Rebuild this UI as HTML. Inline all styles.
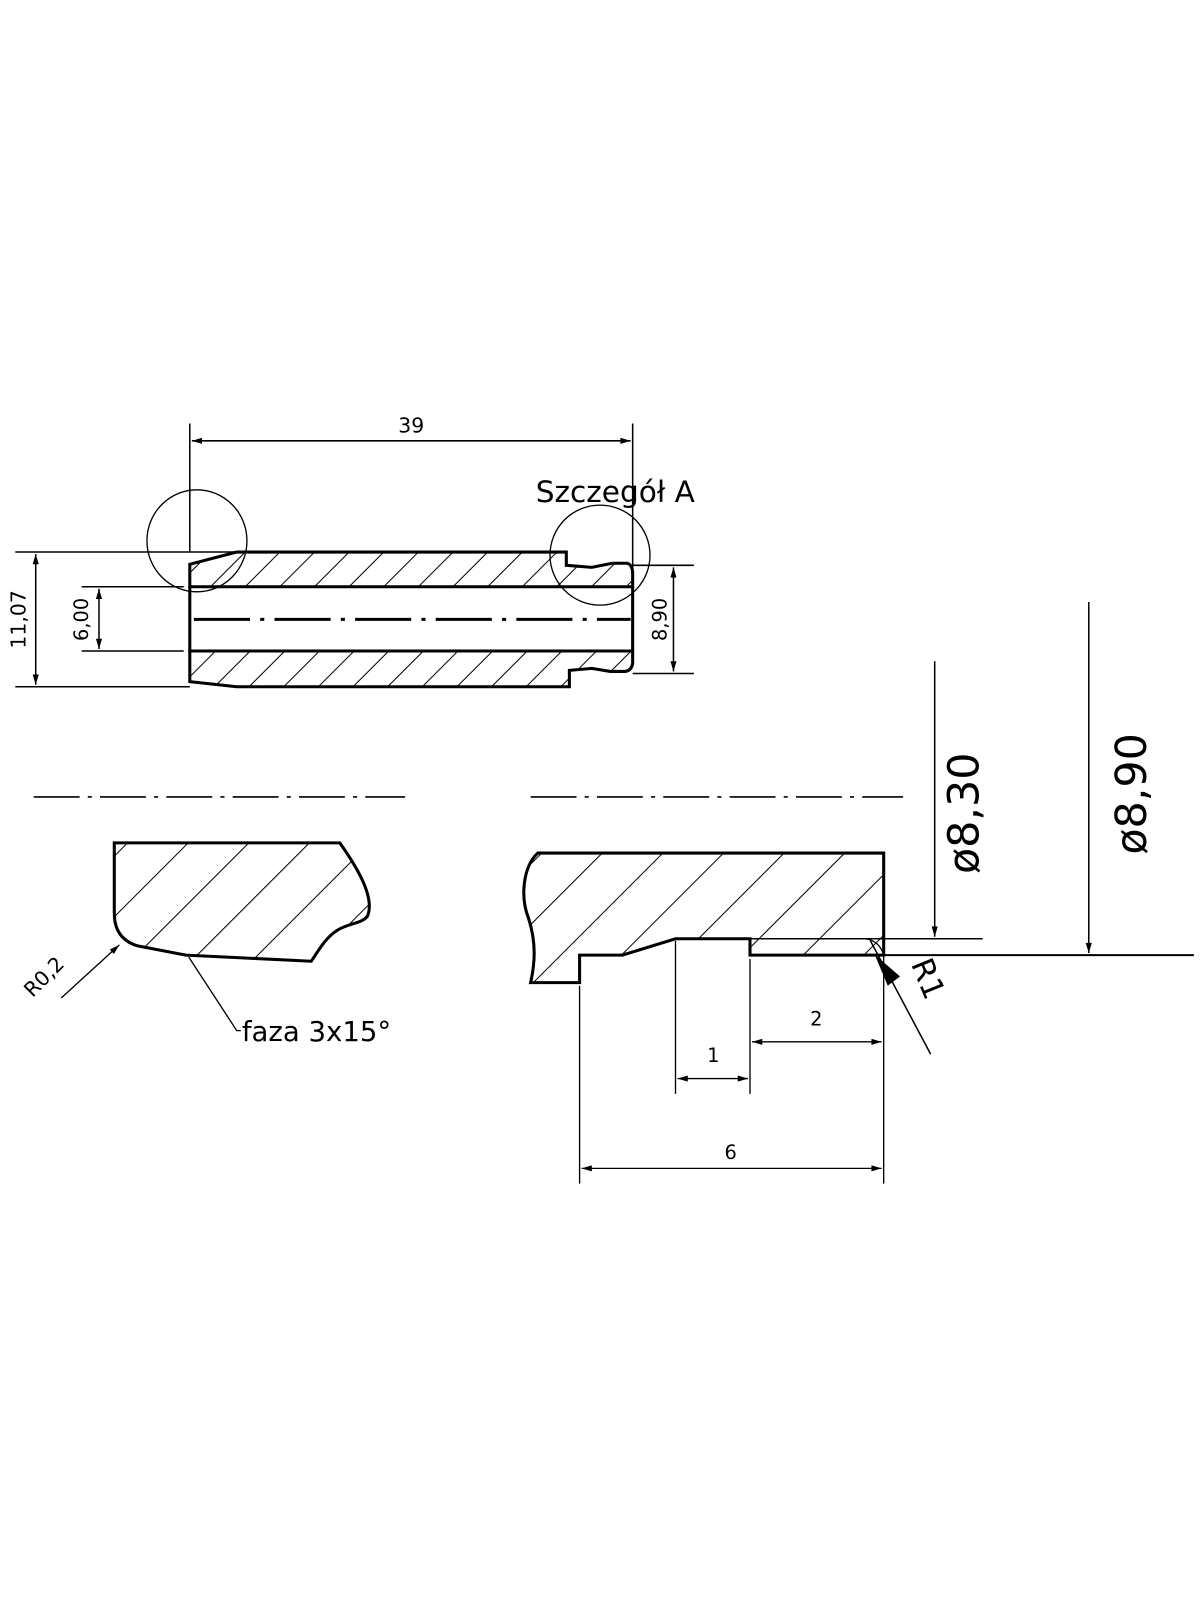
<!DOCTYPE html>
<html><head><meta charset="utf-8"><style>html,body{margin:0;padding:0;background:#fff}svg{display:block}</style></head>
<body>
<svg width="1200" height="1600" viewBox="0 0 1176 1568" xmlns="http://www.w3.org/2000/svg" font-family="'DejaVu Sans','Liberation Sans',sans-serif">
<defs>
<pattern id="h1" width="24" height="24" patternUnits="userSpaceOnUse" patternTransform="rotate(45)"><line x1="0" y1="0" x2="0" y2="24" stroke="#000" stroke-width="2"/></pattern>
<pattern id="h2" width="42" height="42" patternUnits="userSpaceOnUse" patternTransform="rotate(45)"><line x1="0" y1="0" x2="0" y2="42" stroke="#000" stroke-width="2"/></pattern>
<marker id="a" viewBox="0 0 10 6" refX="10" refY="3" markerWidth="14" markerHeight="6" markerUnits="userSpaceOnUse" orient="auto-start-reverse"><path d="M0,0 L10,3 L0,6 Z" fill="#000"/></marker>
</defs>
<g fill="none" stroke="#000">
<path d="M186,575 L186,553 L232,541 L555,541 L555,554 L580,556 L600,552 L615,552 Q620,554 620,562 L620,575 Z" fill="url(#h1)" stroke-width="3"/>
<path d="M186,638 L620,638 L620,650 Q619,657 613,658 L598,658 L580,655 L558,657 L558,673 L232,673 L186,668 Z" fill="url(#h1)" stroke-width="3"/>
<line x1="186" y1="575" x2="186" y2="638" stroke-width="3"/>
<line x1="620" y1="575" x2="620" y2="638" stroke-width="3"/>
<line x1="190" y1="607" x2="618" y2="607" stroke-width="3" stroke-dasharray="55,10,4,10"/>
<ellipse cx="193" cy="530" rx="49" ry="50" stroke-width="1.3"/>
<circle cx="588" cy="544" r="49" stroke-width="1.3"/>
<line x1="186" y1="415" x2="186" y2="541" stroke-width="1.5"/>
<line x1="620" y1="415" x2="620" y2="556" stroke-width="1.5"/>
<line x1="188" y1="432" x2="618" y2="432" stroke-width="1.5" marker-start="url(#a)" marker-end="url(#a)"/>
<line x1="15" y1="541" x2="232" y2="541" stroke-width="1.5"/>
<line x1="15" y1="673" x2="186" y2="673" stroke-width="1.5"/>
<line x1="35" y1="543" x2="35" y2="671" stroke-width="1.5" marker-start="url(#a)" marker-end="url(#a)"/>
<line x1="80" y1="575" x2="180" y2="575" stroke-width="1.5"/>
<line x1="80" y1="638" x2="180" y2="638" stroke-width="1.5"/>
<line x1="97" y1="577" x2="97" y2="636" stroke-width="1.5" marker-start="url(#a)" marker-end="url(#a)"/>
<line x1="620" y1="554" x2="680" y2="554" stroke-width="1.5"/>
<line x1="620" y1="660" x2="680" y2="660" stroke-width="1.5"/>
<line x1="660" y1="556" x2="660" y2="658" stroke-width="1.5" marker-start="url(#a)" marker-end="url(#a)"/>
<line x1="33" y1="781" x2="397" y2="781" stroke-width="1.5" stroke-dasharray="45,8,4,8"/>
<line x1="520" y1="781" x2="885" y2="781" stroke-width="1.5" stroke-dasharray="45,8,4,8"/>
<path d="M112,826 L333,826 C350,850 368,880 360,898 C355,905 340,905 330,912 C318,920 312,932 305,942 L182,936 L135,927 C118,922 112,910 112,895 Z" fill="url(#h2)" stroke-width="3"/>
<line x1="60" y1="978" x2="117" y2="926" stroke-width="1.3" marker-end="url(#a)"/>
<polyline points="185,938 232,1010 236,1010" stroke-width="1.3"/>
<path d="M527,836 L866,836 L866,936 L735,936 L735,920 L662,920 L610,936 L568,936 L568,963 L520,963 C524,945 526,925 518,900 C510,880 512,850 527,836 Z" fill="url(#h2)" stroke-width="3"/>
<path d="M848,920 Q862,922 866,936" stroke-width="1.3"/>
<line x1="662" y1="922" x2="662" y2="1072" stroke-width="1.3"/>
<line x1="735" y1="940" x2="735" y2="1072" stroke-width="1.3"/>
<line x1="866" y1="936" x2="866" y2="1160" stroke-width="1.3"/>
<line x1="568" y1="966" x2="568" y2="1160" stroke-width="1.3"/>
<line x1="664" y1="1057" x2="733" y2="1057" stroke-width="1.3" marker-start="url(#a)" marker-end="url(#a)"/>
<line x1="737" y1="1021" x2="864" y2="1021" stroke-width="1.3" marker-start="url(#a)" marker-end="url(#a)"/>
<line x1="570" y1="1145" x2="864" y2="1145" stroke-width="1.3" marker-start="url(#a)" marker-end="url(#a)"/>
<line x1="735" y1="920" x2="963" y2="920" stroke-width="1.5"/>
<line x1="866" y1="936" x2="1170" y2="936" stroke-width="2"/>
<line x1="916" y1="648" x2="916" y2="918" stroke-width="1.5" marker-end="url(#a)"/>
<line x1="1067" y1="590" x2="1067" y2="934" stroke-width="1.5" marker-end="url(#a)"/>
<line x1="912" y1="1033" x2="853" y2="922" stroke-width="1.5"/>
<path d="M870,966 L857,935 L882,957 Z" fill="#000" stroke="none"/>
</g>
<g fill="#000">
<text x="403" y="424" font-size="20" text-anchor="middle">39</text>
<text x="525" y="492" font-size="29">Szczegół A</text>
<text transform="translate(25,607) rotate(-90)" font-size="20" text-anchor="middle">11,07</text>
<text transform="translate(86,607) rotate(-90)" font-size="19" text-anchor="middle">6,00</text>
<text transform="translate(653,607) rotate(-90)" font-size="19" text-anchor="middle">8,90</text>
<text transform="translate(48,962) rotate(-45)" font-size="20" text-anchor="middle">R0,2</text>
<text x="237" y="1020" font-size="27">faza 3x15°</text>
<text x="699" y="1041" font-size="19" text-anchor="middle">1</text>
<text x="800" y="1005" font-size="19" text-anchor="middle">2</text>
<text x="716" y="1136" font-size="19" text-anchor="middle">6</text>
<text transform="translate(959,797) rotate(-90)" font-size="42" text-anchor="middle">ø8,30</text>
<text transform="translate(1123,778) rotate(-90)" font-size="42" text-anchor="middle">ø8,90</text>
<text transform="translate(900,963) rotate(68)" font-size="30" text-anchor="middle">R1</text>
</g>
</svg>
</body></html>
